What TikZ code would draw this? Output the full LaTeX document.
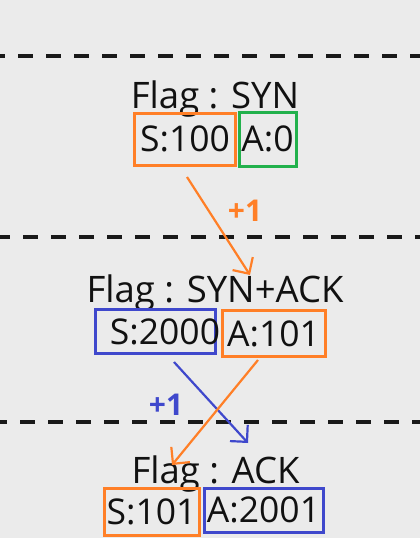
\documentclass[tikz,border=0pt]{standalone}
\usepackage{fontspec}
\setmainfont{Open Sans}
\usetikzlibrary{arrows.meta}
\definecolor{bgc}{HTML}{EBEBEB}
\definecolor{orng}{HTML}{FF7F27}
\definecolor{grn}{HTML}{22B14C}
\definecolor{blu}{HTML}{3F48CC}
\definecolor{txt}{HTML}{111111}
\begin{document}
\begin{tikzpicture}[x=1pt,y=-1pt,
  sep/.style={line width=4pt,dash pattern=on 15pt off 13pt,black!90},
  flagtxt/.style={anchor=base,inner sep=0pt,text=txt,font=\fontsize{36.5}{40}\selectfont},
  fld/.style={draw=#1,line width=3pt,inner sep=0pt,text=txt,font=\fontsize{35.5}{40}\selectfont},
  arr/.style={draw=#1,line width=2.2pt,-{Straight Barb[length=12pt,width=24pt,line width=2.2pt]}},
  inc/.style={text=#1,font=\bfseries\fontsize{30}{32}\selectfont,inner sep=0pt}]
\fill[bgc] (0,0) rectangle (420,538);
\useasboundingbox (0,0) rectangle (420,538);
% separators
\coordinate (l1a) at (-10,56); \coordinate (l1b) at (420,56);
\coordinate (l2a) at (-5,237); \coordinate (l2b) at (420,237);
\coordinate (l3a) at (-8,422); \coordinate (l3b) at (420,422);
\draw[sep] (l1a) -- (l1b);
\draw[sep] (l2a) -- (l2b);
\draw[sep] (l3a) -- (l3b);
% segment 1
\node[flagtxt] (f1) at (215,108) {Flag : SYN};
\node[fld=orng,minimum width=101pt,minimum height=52pt] (s1) at (185,139) {S:100};
\node[fld=grn,minimum width=57pt,minimum height=54pt] (a1) at (267.5,139) {A:0};
% segment 2
\node[flagtxt] (f2) at (215,302) {Flag : SYN+ACK};
\node[fld=blu,minimum width=120pt,minimum height=44pt] (s2) at (155,331.5) {\hspace*{12pt}S:2000\hspace*{-8pt}};
\node[fld=orng,minimum width=103pt,minimum height=46pt] (a2) at (273.5,333.5) {A:101};
% segment 3
\node[flagtxt] (f3) at (215.5,483) {Flag : ACK};
\node[fld=orng,minimum width=95pt,minimum height=47pt] (s3) at (151.5,511.5) {S:101};
\node[fld=blu,minimum width=119pt,minimum height=44pt] (a3) at (263.5,510) {A:2001};
% arrows
\coordinate (o1s) at (187,177); \coordinate (o1e) at (250,275);
\coordinate (b1s) at (174,362); \coordinate (b1e) at (248,443);
\coordinate (o2s) at (258,360); \coordinate (o2e) at (172,465);
\draw[arr=orng] (o1s) -- (o1e);
\draw[arr=blu] (b1s) -- (b1e);
\draw[arr=orng] (o2s) -- (o2e);
\node[inc=orng] (p1) at (245,211) {+1};
\node[inc=blu] (p2) at (166,405) {+1};
\end{tikzpicture}
\end{document}
